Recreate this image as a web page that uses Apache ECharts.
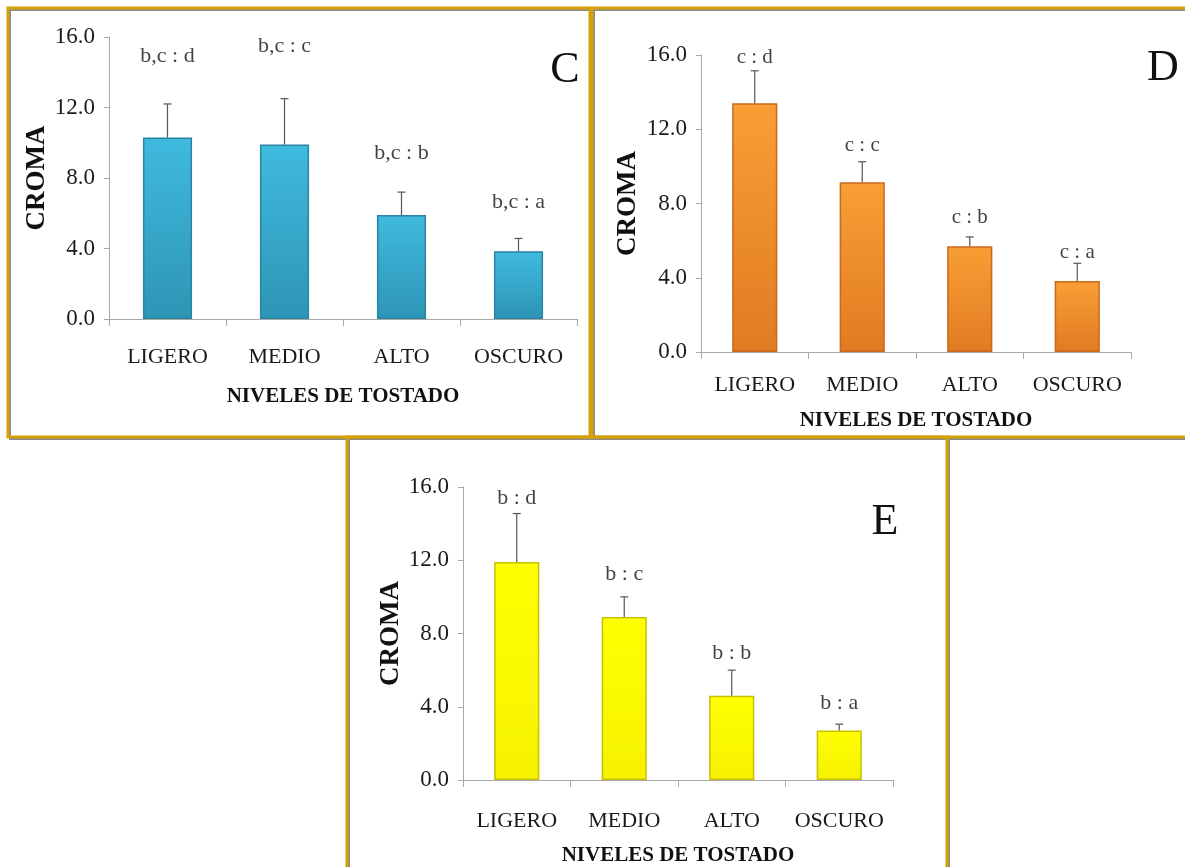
<!DOCTYPE html>
<html>
<head>
<meta charset="utf-8">
<script src="https://cdn.jsdelivr.net/npm/echarts@6/dist/echarts.min.js"></script>
<style>
html,body{margin:0;padding:0;background:#fff;}
#chart{width:1185px;height:867px;}
</style>
</head>
<body>
<div id="chart"></div>
<script>
// ---- data ----
const categories = ['LIGERO', 'MEDIO', 'ALTO', 'OSCURO'];
const yTicks = [0, 4, 8, 12, 16];

const valuesC = [10.3, 9.9, 5.9, 3.85];
const errorsC = [1.9, 2.6, 1.3, 0.72];
const lettersC = ['b,c : d', 'b,c : c', 'b,c : b', 'b,c : a'];
const letterPosC = [14.9, 15.5, 9.4, 6.6];

const valuesD = [13.4, 9.15, 5.7, 3.83];
const errorsD = [1.75, 1.1, 0.5, 0.95];
const lettersD = ['c : d', 'c : c', 'c : b', 'c : a'];
const letterPosD = [15.85, 11.15, 7.25, 5.38];

const valuesE = [11.9, 8.9, 4.6, 2.7];
const errorsE = [2.65, 1.1, 1.4, 0.35];
const lettersE = ['b : d', 'b : c', 'b : b', 'b : a'];
const letterPosE = [15.4, 11.25, 6.9, 4.2];

const yTitle = 'CROMA';
const xTitle = 'NIVELES DE TOSTADO';
const panelNames = ['C', 'D', 'E'];

// ---- styling / layout ----
const SERIF = "'Liberation Serif','Times New Roman',serif";
const panels = [
  { name: panelNames[0], values: valuesC, errors: errorsC, letters: lettersC, letterPos: letterPosC,
    grid: { left: 109, top: 37, width: 468, height: 282 }, nameGapY: 56, nameGapX: 67, labelMargin: 27,
    color: { top: '#3FBADF', bottom: '#2E95B5', border: '#2A84A2' }, letterX: 565, letterY: 70, letterSize: 22 },
  { name: panelNames[1], values: valuesD, errors: errorsD, letters: lettersD, letterPos: letterPosD,
    grid: { left: 701, top: 55, width: 430, height: 297 }, nameGapY: 59, nameGapX: 58, labelMargin: 22,
    color: { top: '#F99E35', bottom: '#E07B22', border: '#C8691C' }, letterX: 1163, letterY: 68, letterSize: 21 },
  { name: panelNames[2], values: valuesE, errors: errorsE, letters: lettersE, letterPos: letterPosE,
    grid: { left: 463, top: 487, width: 430, height: 294 }, nameGapY: 47, nameGapX: 65, labelMargin: 30,
    color: { top: '#FFFF00', bottom: '#F6F200', border: '#C9C000' }, letterX: 885, letterY: 522, letterSize: 22 }
];

const grids = [], xAxes = [], yAxes = [], series = [];
panels.forEach((p, i) => {
  grids.push(Object.assign({ containLabel: false }, p.grid));
  xAxes.push({
    type: 'category', gridIndex: i, data: categories,
    name: xTitle, nameLocation: 'middle', nameGap: p.nameGapX,
    nameTextStyle: { fontFamily: SERIF, fontWeight: 'bold', fontSize: 21, color: '#111' },
    axisLine: { lineStyle: { color: '#A8A8A8', width: 1 } },
    axisTick: { show: true, length: 7, lineStyle: { color: '#A8A8A8' } },
    axisLabel: { fontFamily: SERIF, fontSize: 22, color: '#1a1a1a', margin: p.labelMargin, interval: 0, hideOverlap: false }
  });
  yAxes.push({
    type: 'value', gridIndex: i, min: yTicks[0], max: yTicks[yTicks.length - 1], interval: yTicks[1] - yTicks[0],
    name: yTitle, nameLocation: 'middle', nameGap: p.nameGapY, nameRotate: 90,
    nameTextStyle: { fontFamily: SERIF, fontWeight: 'bold', fontSize: 27, color: '#111' },
    axisLine: { show: true, lineStyle: { color: '#A8A8A8', width: 1 } },
    axisTick: { show: true, length: 5, lineStyle: { color: '#A8A8A8' } },
    splitLine: { show: false },
    axisLabel: { fontFamily: SERIF, fontSize: 23, color: '#1a1a1a', margin: 14, formatter: v => v.toFixed(1) }
  });
  series.push({
    type: 'bar', xAxisIndex: i, yAxisIndex: i, data: p.values, barWidth: '42%',
    itemStyle: {
      color: new echarts.graphic.LinearGradient(0, 0, 0, 1, [
        { offset: 0, color: p.color.top }, { offset: 1, color: p.color.bottom }
      ]),
      borderColor: p.color.border, borderWidth: 1.5
    },
    z: 2
  });
  series.push({
    type: 'custom', xAxisIndex: i, yAxisIndex: i,
    data: p.values.map((v, k) => [k, v, v + p.errors[k]]),
    renderItem: function (params, api) {
      const base = api.coord([api.value(0), api.value(1)]);
      const top = api.coord([api.value(0), api.value(2)]);
      const cap = 4;
      const st = { stroke: '#555', lineWidth: 1.2 };
      return {
        type: 'group',
        children: [
          { type: 'line', shape: { x1: base[0], y1: base[1], x2: top[0], y2: top[1] }, style: st },
          { type: 'line', shape: { x1: top[0] - cap, y1: top[1], x2: top[0] + cap, y2: top[1] }, style: st }
        ]
      };
    },
    z: 3
  });
  series.push({
    type: 'scatter', xAxisIndex: i, yAxisIndex: i, symbolSize: 0,
    data: p.letterPos.map((y, k) => ({ value: [k, y], label: { formatter: p.letters[k] } })),
    label: { show: true, position: 'inside', fontFamily: SERIF, fontSize: p.letterSize, color: '#111' },
    silent: true, z: 4
  });
});

const border = '#D4A106';
const shadow = '#8C8C8C';
function frame(x, y, w, h) {
  return [
    { type: 'rect', shape: { x: x + 2, y: y + 2, width: w, height: h }, style: { fill: 'none', stroke: shadow, lineWidth: 2 }, z: 10 },
    { type: 'rect', shape: { x: x, y: y, width: w, height: h }, style: { fill: 'none', stroke: border, lineWidth: 3 }, z: 11 }
  ];
}
const graphics = [].concat(
  frame(8, 8, 582, 429),
  frame(592, 8, 600, 429),
  frame(347, 437, 600, 440)
);
panels.forEach(p => {
  graphics.push({
    type: 'text', x: p.letterX, y: p.letterY, z: 12,
    style: { text: p.name, font: "44px 'Liberation Serif','Times New Roman',serif", fill: '#111', align: 'center', verticalAlign: 'middle' }
  });
});

const chart = echarts.init(document.getElementById('chart'), null, { renderer: 'canvas' });
chart.setOption({
  animation: false,
  backgroundColor: '#ffffff',
  grid: grids, xAxis: xAxes, yAxis: yAxes, series: series,
  graphic: graphics
});
</script>
</body>
</html>
